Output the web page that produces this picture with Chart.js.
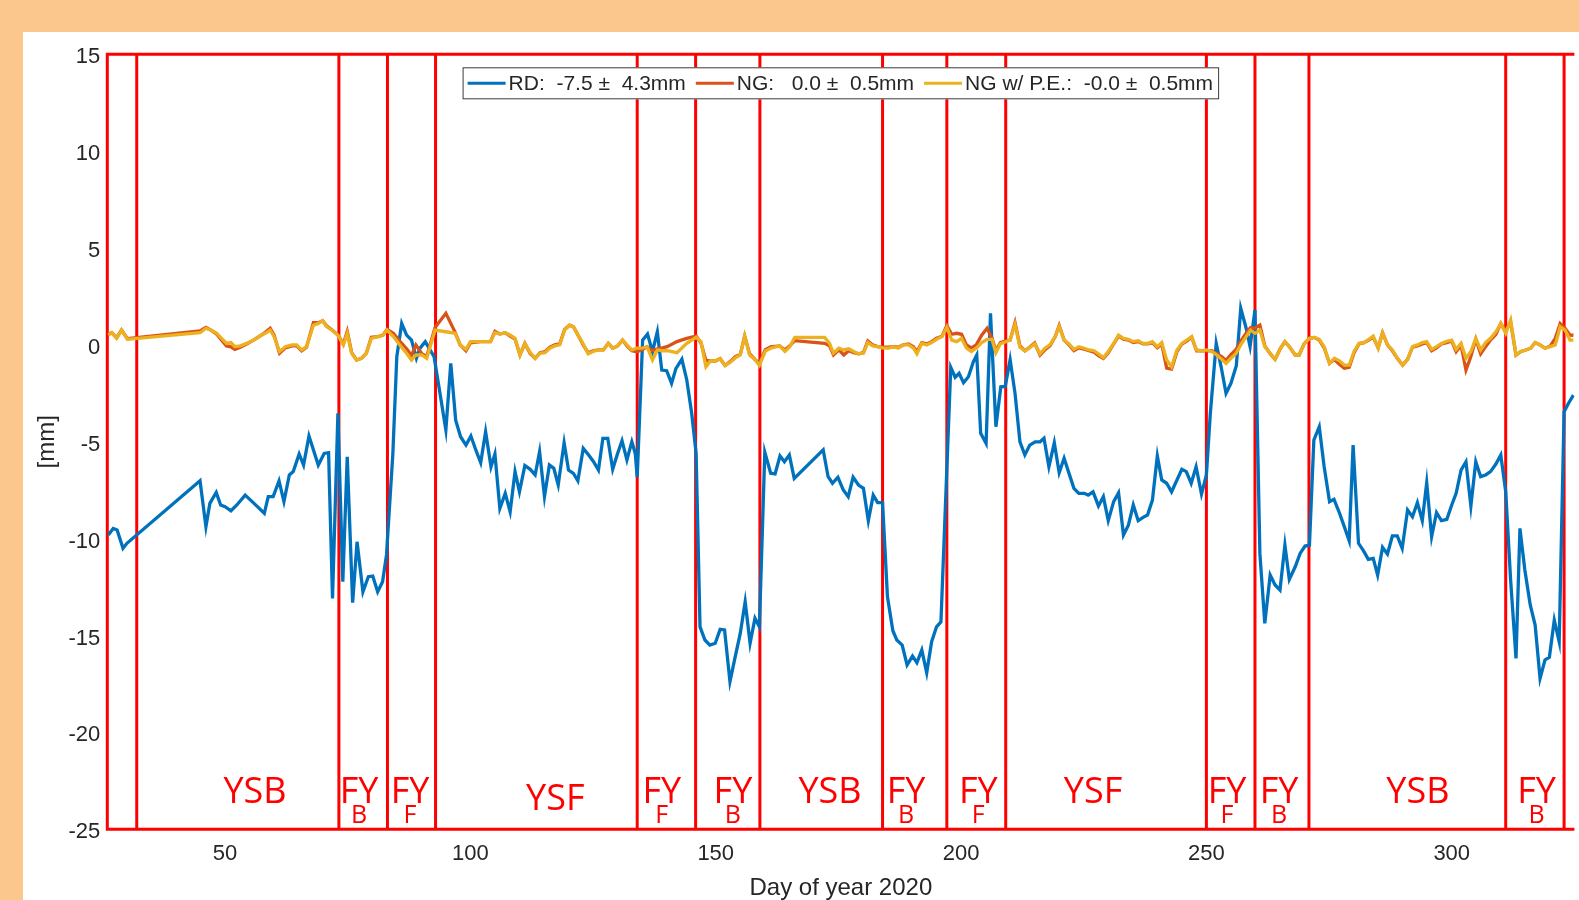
<!DOCTYPE html>
<html><head><meta charset="utf-8">
<script src="https://cdn.jsdelivr.net/npm/chart.js@4/dist/chart.umd.min.js"></script>
<style>html,body{margin:0;padding:0;overflow:hidden;background:#FCC78C}canvas{display:block}</style>
</head><body><canvas id="c" width="1579" height="900"></canvas>
<script>
// ---------- axis ticks ----------
const xTicks = [50, 100, 150, 200, 250, 300];
const yTicks = [-25, -20, -15, -10, -5, 0, 5, 10, 15];

// ---------- regime boundaries (day of year) ----------
const boundaries = [32, 73.2, 83.1, 92.9, 134, 145.9, 159, 184, 197.1, 209.1, 250, 259.9, 270.9, 311, 322.9];

// ---------- regime labels ----------
const regionNames = ['YSB','FY','FY','YSF','FY','FY','YSB','FY','FY','YSF','FY','FY','YSB','FY'];
const regionSubs  = ['','B','F','','F','B','','B','F','','F','B','','B'];
const regionDays  = [56.1, 77.3, 87.7, 117.3, 139, 153.5, 173.3, 188.8, 203.5, 226.9, 254.2, 264.8, 293.1, 317.3];
const regionBase  = [-23.64, -23.64, -23.64, -24.0, -23.64, -23.64, -23.64, -23.64, -23.64, -23.64, -23.64, -23.64, -23.64, -23.64];
const subBase = -24.67;

// ---------- legend ----------
const legendLabels = ['RD:  -7.5 \u00b1  4.3mm', 'NG:   0.0 \u00b1  0.5mm', 'NG w/ P.E.:  -0.0 \u00b1  0.5mm'];

// ---------- RD series ----------
const rdDays = [
 26.2,27.2,28.0,29.2,30.0,44.9,46.1,46.9,48.2,49.1,
 50.0,51.2,52.4,54.1,55.9,58.0,58.8,59.8,61.0,62.0,
 63.1,63.9,65.1,66.0,67.1,69.0,70.2,71.1,71.9,73.0,
 74.0,74.9,76.0,76.9,78.1,79.2,80.1,81.1,82.1,82.9,
 84.2,85.0,86.0,87.0,88.0,89.0,89.7,90.8,91.4,92.6,
 93.8,95.0,96.0,97.0,98.0,99.1,100.1,101.1,102.1,103.1,
 104.2,105.0,106.0,107.1,108.1,109.1,110.0,111.1,112.2,113.2,
 114.1,115.1,116.1,117.0,117.9,119.1,120.0,121.0,121.9,123.0,
 124.1,125.1,126.1,127.0,128.0,129.0,130.0,130.9,131.9,132.9,
 133.6,134.0,135.1,136.1,137.1,138.1,139.0,140.0,141.0,141.9,
 143.1,144.1,145.1,146.0,146.8,147.8,148.8,149.9,150.9,151.8,
 152.9,153.9,155.0,156.0,157.0,158.0,158.9,160.0,161.2,162.1,
 163.1,164.0,165.0,166.0,171.9,172.9,173.8,174.9,176.0,177.0,
 178.0,179.1,180.1,181.1,182.1,183.0,184.0,185.0,186.1,186.9,
 188.0,189.0,190.1,191.0,192.0,193.0,194.0,195.0,195.9,197.9,
 198.8,199.6,200.5,201.5,202.5,203.2,204.0,205.1,206.0,207.1,
 208.1,209.0,210.0,211.0,212.0,213.0,214.0,215.1,216.1,216.9,
 217.9,219.0,220.0,221.0,222.0,223.0,224.0,225.1,225.9,226.9,
 228.0,229.0,230.0,231.1,232.1,233.1,234.1,235.1,236.1,237.1,
 238.0,239.0,240.0,240.9,241.9,242.9,244.0,245.0,245.9,246.9,
 247.9,249.0,250.0,250.8,252.0,253.0,254.0,255.0,256.1,257.0,
 258.1,258.9,259.9,260.9,261.9,263.0,264.0,265.0,266.0,266.9,
 268.1,269.1,270.1,271.0,271.9,273.0,274.0,275.1,276.0,277.1,
 278.1,279.1,279.9,281.0,282.0,283.0,284.0,284.9,285.9,286.9,
 287.9,288.9,289.9,291.0,292.0,293.0,294.0,294.9,295.9,296.9,
 297.9,299.0,300.0,300.9,301.9,302.9,303.9,304.9,305.9,306.9,
 307.9,309.0,310.0,311.0,312.0,313.1,313.9,314.9,316.0,317.0,
 318.0,319.0,319.9,320.9,321.9,322.9,323.8,324.8
];
const rdVals = [
 -9.81,-9.47,-9.55,-10.5,-10.24,-7.01,-9.38,-8.18,-7.61,-8.26,
 -8.35,-8.56,-8.26,-7.75,-8.18,-8.69,-7.83,-7.83,-7.02,-8.09,
 -6.71,-6.54,-5.63,-6.20,-4.70,-6.20,-5.60,-5.56,-13.08,-3.53,
 -12.22,-5.77,-13.3,-10.16,-12.74,-11.96,-11.93,-12.74,-12.22,-10.84,
 -5.6,-0.61,1.11,0.51,0.25,-0.69,-0.18,0.17,-0.09,-0.61,
 -2.5,-4.39,-0.95,-3.88,-4.74,-5.17,-4.70,-5.42,-6.08,-4.48,
 -6.29,-5.63,-8.44,-7.66,-8.61,-6.54,-7.58,-6.23,-6.42,-6.71,
 -5.51,-7.83,-6.20,-6.37,-7.23,-5.05,-6.46,-6.63,-7.01,-5.34,
 -5.68,-6.03,-6.46,-4.82,-4.82,-6.42,-5.60,-4.94,-5.94,-5.0,
 -5.6,-6.83,0.25,0.56,-0.35,0.68,-1.30,-1.33,-1.98,-1.21,
 -0.74,-1.81,-3.53,-5.60,-14.55,-15.23,-15.49,-15.40,-14.68,-14.71,
 -17.38,-16.18,-14.89,-13.25,-15.40,-14.11,-14.55,-5.53,-6.62,-6.66,
 -5.73,-6.03,-5.68,-6.89,-5.42,-6.80,-7.14,-6.83,-7.49,-7.83,
 -6.83,-7.23,-7.40,-9.07,-7.75,-8.14,-8.14,-13.0,-14.75,-15.23,
 -15.49,-16.52,-16.06,-16.40,-15.75,-16.92,-15.32,-14.55,-14.29,-1.16,
 -1.67,-1.47,-1.95,-1.64,-0.87,-0.52,-4.56,-5.08,1.63,-4.22,
 -2.16,-2.14,-0.76,-2.50,-5.0,-5.68,-5.17,-5.0,-5.0,-4.82,
 -6.29,-5.05,-6.60,-5.85,-6.63,-7.40,-7.66,-7.66,-7.75,-7.58,
 -8.31,-7.83,-9.07,-8.09,-7.63,-9.81,-9.30,-8.26,-9.07,-8.90,
 -8.78,-8.01,-5.73,-6.97,-7.14,-7.58,-6.97,-6.42,-6.54,-7.14,
 -6.29,-7.70,-6.71,-3.53,0.08,-1.13,-2.50,-1.98,-1.07,1.89,
 0.86,-0.09,1.80,-10.76,-14.37,-11.88,-12.39,-12.65,-10.33,-12.10,
 -11.45,-10.76,-10.38,-10.33,-4.91,-4.22,-6.29,-8.09,-7.97,-8.66,
 -9.38,-10.11,-5.17,-10.24,-10.62,-11.07,-11.02,-11.88,-10.45,-10.79,
 -9.86,-9.86,-10.50,-8.52,-8.87,-8.14,-9.07,-7.11,-9.90,-8.66,
 -9.07,-9.0,-8.26,-7.66,-6.46,-6.03,-8.31,-6.03,-6.80,-6.71,
 -6.54,-6.15,-5.68,-7.58,-12.13,-16.18,-9.47,-11.62,-13.42,-14.46,
 -17.21,-16.26,-16.12,-14.2,-15.32,-3.45,-3.01,-2.59
];

// ---------- NG and NG w/ P.E. series (shared days) ----------
const ngDays = [
 26.2,26.9,27.9,28.9,30.1,44.9,46.1,47.3,48.3,49.3,
 50.3,51.2,52.0,53.1,54.4,55.8,57.1,58.2,59.2,60.0,
 61.1,62.3,63.6,64.6,65.6,66.6,68.0,69.0,69.9,70.7,
 71.7,73.0,74.1,74.9,75.8,76.8,77.8,78.8,79.8,81.2,
 82.2,83.0,84.3,85.6,87.0,88.0,88.9,90.1,91.1,92.8,
 95.0,96.9,97.9,99.1,100.0,102.0,104.1,105.0,106.0,107.1,
 108.1,109.1,110.1,111.1,112.2,113.2,114.2,115.2,116.2,117.2,
 118.2,119.2,120.2,121.0,122.1,123.1,124.0,125.0,126.1,127.1,
 128.1,129.0,130.0,131.0,131.9,132.9,133.9,135.0,136.0,137.1,
 138.1,139.1,140.1,142.1,144.1,146.0,147.0,148.0,148.9,149.9,
 150.9,151.9,153.0,154.0,155.0,155.9,156.9,158.0,158.9,160.1,
 161.2,163.0,164.1,165.1,166.1,172.2,173.2,174.0,175.1,176.1,
 177.1,178.1,179.1,180.1,181.0,182.0,183.0,184.2,185.2,186.2,
 187.2,188.2,189.3,190.3,191.0,192.0,193.0,194.0,195.0,196.1,
 197.1,198.1,199.1,200.1,201.1,202.1,203.1,204.2,205.3,206.3,
 207.1,208.0,209.0,210.0,211.0,212.0,213.0,214.1,215.0,216.1,
 217.1,218.1,219.2,220.0,221.0,222.0,223.0,224.0,225.1,226.1,
 227.1,228.0,229.0,230.0,231.1,232.1,233.1,234.1,235.1,236.1,
 237.1,238.1,239.0,240.0,240.9,241.9,242.9,244.0,245.0,246.0,
 247.0,248.0,249.1,250.1,251.1,252.1,253.1,254.0,255.0,256.0,
 257.0,258.1,259.0,259.9,260.9,261.9,263.0,264.0,265.0,266.0,
 266.9,268.1,268.9,269.9,271.0,272.0,273.0,274.0,275.1,276.1,
 277.1,278.1,279.1,280.1,281.1,282.1,283.1,284.0,285.0,285.9,
 286.9,287.9,288.9,290.0,291.0,292.0,293.0,294.0,294.9,295.9,
 296.9,297.9,299.0,300.0,300.9,301.9,302.9,303.9,304.9,305.9,
 306.9,307.9,309.0,310.0,311.0,312.0,313.1,314.1,315.1,316.1,
 317.0,318.0,319.0,320.1,321.1,322.1,323.1,324.1,324.8
];
const ngVals = [
 0.55,0.63,0.38,0.77,0.32,0.72,0.90,0.74,0.55,0.25,
 -0.05,-0.10,-0.23,-0.12,0.05,0.25,0.46,0.65,0.86,0.50,
 -0.43,-0.15,-0.05,-0.05,-0.30,-0.12,1.15,1.15,1.25,0.98,
 0.80,0.51,0.05,0.70,-0.40,-0.78,-0.69,-0.43,0.40,0.43,
 0.51,0.80,0.60,0.20,-0.20,-0.55,0.0,-0.45,-0.60,0.90,
 1.63,0.65,0.0,-0.30,0.10,0.17,0.17,0.70,0.56,0.63,
 0.45,0.30,-0.52,0.08,-0.45,-0.69,-0.40,-0.35,-0.12,0.0,
 0.05,0.80,1.02,0.94,0.43,-0.05,-0.40,-0.30,-0.26,-0.26,
 0.08,-0.17,-0.05,0.25,-0.05,-0.30,-0.35,-0.25,-0.09,-0.30,
 -0.20,-0.15,-0.09,0.17,0.34,0.45,0.10,-0.80,-0.83,-0.83,
 -0.71,-1.06,-0.85,-0.60,-0.50,0.46,-0.45,-0.75,-0.95,-0.25,
 -0.10,-0.05,-0.25,-0.05,0.22,0.08,-0.05,-0.52,-0.25,-0.52,
 -0.30,-0.40,-0.46,-0.40,0.20,0.0,-0.09,-0.12,-0.12,-0.09,
 -0.12,0.0,0.05,-0.10,-0.35,0.12,0.05,0.17,0.34,0.45,
 1.0,0.55,0.60,0.55,0.0,-0.15,0.0,0.50,0.86,0.35,
 -0.30,0.12,0.20,0.25,1.15,-0.05,-0.30,-0.10,0.10,-0.52,
 -0.25,-0.05,0.43,1.0,0.25,0.0,-0.30,-0.15,-0.22,-0.30,
 -0.38,-0.55,-0.69,-0.40,0.05,0.46,0.30,0.25,0.12,0.17,
 0.05,0.05,0.12,-0.15,0.05,-1.20,-1.25,-0.35,0.05,0.20,
 0.40,-0.30,-0.30,-0.30,-0.30,-0.45,-0.60,-0.80,-0.50,-0.25,
 0.20,0.60,0.90,0.86,1.02,-0.05,-0.45,-0.74,-0.22,0.17,
 -0.09,-0.52,-0.52,0.05,0.34,0.39,0.25,-0.15,-0.95,-0.75,
 -1.00,-1.20,-1.15,-0.40,0.05,0.12,0.25,0.40,-0.15,0.63,
 0.0,-0.30,-0.69,-1.04,-0.74,-0.12,-0.05,0.05,0.12,-0.30,
 -0.15,0.05,0.12,0.20,-0.35,0.0,-1.30,-0.60,0.30,-0.46,
 -0.09,0.25,0.55,1.11,0.70,1.20,-0.52,-0.34,-0.26,-0.17,
 0.12,0.0,-0.17,-0.05,0.34,1.10,0.85,0.51,0.50
];
const peVals = [
 0.51,0.63,0.34,0.77,0.29,0.63,0.86,0.74,0.60,0.34,
 0.08,0.12,-0.09,-0.05,0.08,0.25,0.46,0.60,0.77,0.43,
 -0.34,-0.09,0.0,0.0,-0.26,-0.09,1.02,1.11,1.25,0.95,
 0.77,0.51,0.0,0.60,-0.43,-0.78,-0.69,-0.43,0.34,0.43,
 0.51,0.77,0.43,0.0,-0.43,-0.78,-0.52,-0.52,-0.69,0.77,
 0.68,0.60,0.0,-0.23,0.17,0.17,0.17,0.63,0.56,0.63,
 0.51,0.34,-0.52,0.08,-0.40,-0.69,-0.43,-0.40,-0.17,-0.05,
 0.0,0.77,1.02,0.94,0.43,0.0,-0.46,-0.34,-0.26,-0.26,
 0.08,-0.17,-0.05,0.25,0.0,-0.26,-0.17,-0.17,-0.09,-0.78,
 -0.26,-0.30,-0.30,-0.40,0.08,0.39,0.17,-1.13,-0.83,-0.83,
 -0.71,-1.06,-0.89,-0.67,-0.52,0.46,-0.52,-0.75,-1.06,-0.32,
 -0.17,-0.05,-0.34,-0.09,0.39,0.39,0.08,-0.43,-0.17,-0.26,
 -0.20,-0.34,-0.46,-0.43,0.12,-0.05,-0.09,-0.17,-0.17,-0.09,
 -0.17,0.0,0.0,-0.17,-0.46,0.08,0.0,0.12,0.29,0.43,
 0.90,0.25,0.17,0.34,-0.17,-0.34,-0.17,0.12,0.29,0.29,
 -0.40,0.06,0.15,0.25,1.05,-0.12,-0.30,-0.13,0.06,-0.45,
 -0.17,0.0,0.43,0.94,0.25,0.05,-0.23,-0.09,-0.17,-0.26,
 -0.30,-0.46,-0.65,-0.34,0.08,0.51,0.34,0.29,0.17,0.22,
 0.08,0.08,0.17,-0.09,0.12,-0.78,-1.13,-0.26,0.08,0.25,
 0.43,-0.26,-0.30,-0.26,-0.34,-0.52,-0.74,-0.95,-0.69,-0.46,
 0.0,0.43,0.77,0.60,0.77,-0.09,-0.43,-0.74,-0.22,0.17,
 -0.09,-0.52,-0.52,0.05,0.34,0.39,0.29,-0.09,-0.95,-0.69,
 -0.82,-1.04,-1.04,-0.34,0.08,0.12,0.29,0.46,-0.17,0.63,
 0.0,-0.26,-0.69,-1.04,-0.74,-0.09,0.0,0.12,0.17,-0.23,
 -0.09,0.08,0.19,0.25,-0.23,0.08,-0.69,-0.34,0.34,-0.26,
 0.12,0.34,0.68,1.11,0.60,1.28,-0.52,-0.34,-0.26,-0.17,
 0.12,0.0,-0.17,-0.09,0.0,0.94,0.77,0.25,0.25
];

// ---------- styling ----------
const TXT = '#262626';
const AXFONT = '"Liberation Sans", Arial, sans-serif';
const LBLFONT = '"Open Sans", "Noto Sans", sans-serif';
const colors = { rd: '#0072BD', ng: '#D95319', pe: '#EDB120' };

const pts = (xs, ys) => xs.map((d, i) => ({ x: d, y: ys[i] }));

const deco = {
  id: 'deco',
  beforeDraw(chart) {
    const c = chart.ctx;
    c.save();
    c.fillStyle = '#FCC78C';
    c.fillRect(0, 0, chart.width, chart.height);
    c.fillStyle = '#FFFFFF';
    c.fillRect(23, 32, chart.width - 23, chart.height - 32);
    c.restore();
  },
  beforeDatasetsDraw(chart) {
    const { ctx, chartArea: a, scales: { x } } = chart;
    ctx.save();
    ctx.strokeStyle = '#FF0000';
    ctx.lineWidth = 3;
    for (const d of boundaries) {
      const px = x.getPixelForValue(d);
      ctx.beginPath(); ctx.moveTo(px, a.top); ctx.lineTo(px, a.bottom); ctx.stroke();
    }
    ctx.beginPath();
    ctx.moveTo(a.right, a.top); ctx.lineTo(a.left, a.top); ctx.lineTo(a.left, a.bottom); ctx.lineTo(a.right, a.bottom);
    ctx.stroke();
    ctx.restore();
  },
  afterDatasetsDraw(chart) {
    const { ctx, chartArea: a, scales: { x, y } } = chart;
    ctx.save();
    // regime labels
    ctx.fillStyle = '#FF0000';
    ctx.textAlign = 'center';
    ctx.textBaseline = 'alphabetic';
    for (let i = 0; i < regionNames.length; i++) {
      const px = x.getPixelForValue(regionDays[i]);
      ctx.font = '36px ' + LBLFONT;
      ctx.fillText(regionNames[i], px, y.getPixelForValue(regionBase[i]));
      if (regionSubs[i]) {
        ctx.font = '25px ' + LBLFONT;
        ctx.fillText(regionSubs[i], px, y.getPixelForValue(subBase));
      }
    }
    // legend
    ctx.font = '21px ' + AXFONT;
    const cols = [colors.rd, colors.ng, colors.pe];
    const sample = 38, gapLT = 3, gapItem = 10, padL = 5, padR = 6;
    const widths = legendLabels.map(t => ctx.measureText(t).width);
    let total = padL + padR + gapItem * (legendLabels.length - 1);
    widths.forEach(w => total += sample + gapLT + w);
    const bx = (a.left + a.right) / 2 - total / 2;
    const by = a.top + 13, bh = 32;
    ctx.fillStyle = '#FFFFFF';
    ctx.fillRect(bx, by, total, bh);
    ctx.strokeStyle = '#3c3c3c';
    ctx.lineWidth = 1;
    ctx.strokeRect(bx + 0.5, by + 0.5, total - 1, bh - 1);
    let cx = bx + padL;
    const cy = by + bh / 2;
    ctx.textAlign = 'left';
    ctx.textBaseline = 'middle';
    legendLabels.forEach((t, i) => {
      ctx.strokeStyle = cols[i];
      ctx.lineWidth = 3;
      ctx.beginPath(); ctx.moveTo(cx, cy); ctx.lineTo(cx + sample, cy); ctx.stroke();
      cx += sample + gapLT;
      ctx.fillStyle = TXT;
      ctx.fillText(t, cx, cy + 1);
      cx += widths[i] + gapItem;
    });
    ctx.restore();
  }
};

new Chart(document.getElementById('c'), {
  type: 'line',
  data: {
    datasets: [
      { label: legendLabels[0], data: pts(rdDays, rdVals), borderColor: colors.rd, borderWidth: 3.3, pointRadius: 0, tension: 0, order: 3, fill: false },
      { label: legendLabels[1], data: pts(ngDays, ngVals), borderColor: colors.ng, borderWidth: 3.3, pointRadius: 0, tension: 0, order: 2, fill: false },
      { label: legendLabels[2], data: pts(ngDays, peVals), borderColor: colors.pe, borderWidth: 3.3, pointRadius: 0, tension: 0, order: 1, fill: false }
    ]
  },
  options: {
    responsive: false,
    animation: false,
    devicePixelRatio: 1,
    layout: { padding: { left: 0, right: 4.6, top: 54.3, bottom: 0 } },
    plugins: { legend: { display: false }, tooltip: { enabled: false } },
    scales: {
      x: {
        type: 'linear', min: 26, max: 325,
        afterBuildTicks: s => { s.ticks = xTicks.map(v => ({ value: v })); },
        afterFit: s => { s.height = 70.7; },
        grid: { display: false, drawTicks: false },
        border: { display: false },
        ticks: { font: { family: AXFONT, size: 22 }, color: TXT, padding: 11, maxRotation: 0 },
        title: { display: true, text: 'Day of year 2020', font: { family: AXFONT, size: 24 }, color: TXT, padding: { top: 0, bottom: -3 } }
      },
      y: {
        type: 'linear', min: -25, max: 15,
        afterBuildTicks: s => { s.ticks = yTicks.map(v => ({ value: v })); },
        afterFit: s => { s.width = 107.3; },
        grid: { display: false, drawTicks: false },
        border: { display: false },
        ticks: { font: { family: AXFONT, size: 22 }, color: TXT, padding: 7, labelOffset: 3 },
        title: { display: true, text: '[mm]', font: { family: AXFONT, size: 24 }, color: TXT, padding: { top: 33, bottom: 0 } }
      }
    }
  },
  plugins: [deco]
});
</script>
</body></html>
